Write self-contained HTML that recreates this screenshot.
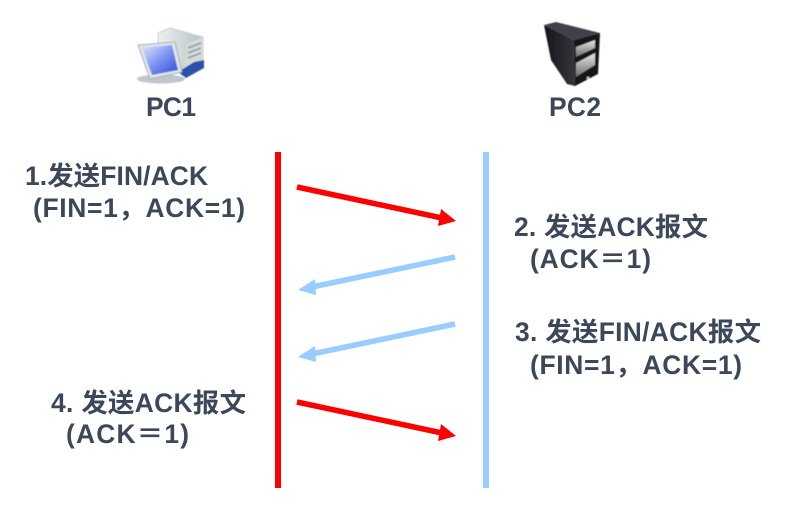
<!DOCTYPE html>
<html><head><meta charset="utf-8"><style>
html,body{margin:0;padding:0;background:#fff}
svg{display:block}
text{font-family:"Liberation Sans","Noto Sans CJK SC",sans-serif;font-weight:bold;font-size:26.4px;fill:#3c4759}
</style></head><body>
<svg width="800" height="506" viewBox="0 0 800 506" xmlns="http://www.w3.org/2000/svg">
<defs>
<linearGradient id="scr" x1="0" y1="0" x2="1" y2="1"><stop offset="0" stop-color="#dfe8fc"/><stop offset=".5" stop-color="#7d93f0"/><stop offset="1" stop-color="#2f4bdc"/></linearGradient>
<linearGradient id="twr" x1="0" y1="0" x2="1" y2="0"><stop offset="0" stop-color="#eef1f0"/><stop offset="1" stop-color="#b7c2c4"/></linearGradient>
<linearGradient id="blk" x1="0" y1="0" x2="1" y2="0"><stop offset="0" stop-color="#15151a"/><stop offset="1" stop-color="#34343c"/></linearGradient>
<linearGradient id="dr" x1="0" y1="0" x2="0" y2="1"><stop offset="0" stop-color="#e8e8e8"/><stop offset="1" stop-color="#6a6a6a"/></linearGradient>
<filter id="soft" x="-10%" y="-10%" width="120%" height="120%"><feGaussianBlur stdDeviation="0.5"/></filter>
</defs>
<!-- PC1 icon -->
<g filter="url(#soft)">
<polygon points="158,33 170,28 203,37 203,64 186,76 158,62" fill="url(#twr)" stroke="#c8d0d0"/>
<polygon points="186,44 203,37 203,62 186,70" fill="#d4dada"/>
<path d="M188,48l13,-5M188,53l13,-5M188,58l13,-5" stroke="#8f9aa0" stroke-width="1.5"/>
<path d="M178,72 L194,62 L204,60 L204,68 L186,78 Z" fill="#2a52a8"/>
<ellipse cx="161" cy="79" rx="24" ry="4.5" fill="#c0c6cc"/>
<polygon points="138,45 175,42 182,72 150,79" fill="#dfe5ea" stroke="#a5adb6"/>
<polygon points="142,48 172,45 178,70 152,75" fill="url(#scr)"/>
</g>
<!-- PC2 icon -->
<g filter="url(#soft)">
<polygon points="544,25 556,22 600,33 574,40" fill="#40414a"/>
<polygon points="544,25 574,40 575,86 567,84 551,60" fill="url(#blk)"/>
<polygon points="574,40 600,33 598,74 575,86" fill="#141418"/>
<polygon points="576,47 595,40 595,48 576,57" fill="url(#dr)"/>
<polygon points="576,63 595,53 595,65 576,77" fill="url(#dr)"/>
<circle cx="588" cy="78" r="1.5" fill="#bbb"/>
</g>
<!-- labels -->
<text x="146" y="116" textLength="50">PC1</text>
<text x="549" y="116" textLength="52">PC2</text>
<!-- lifelines -->
<rect x="275" y="152" width="6" height="336" fill="#ff0000"/>
<rect x="483" y="152" width="6" height="336" fill="#99ccff"/>
<!-- arrows -->
<g fill="#ff0000" stroke="#ff0000">
<line x1="297" y1="187" x2="442" y2="218" stroke-width="5.5"/>
<polygon points="456,221 438,226 441,209" stroke="none"/>
<line x1="297" y1="402" x2="442" y2="433" stroke-width="5.5"/>
<polygon points="456,436 438,441 441,424" stroke="none"/>
</g>
<g fill="#99ccff" stroke="#99ccff">
<line x1="455" y1="257" x2="312" y2="287" stroke-width="5.5"/>
<polygon points="298,290 315,279 316,295" stroke="none"/>
<line x1="455" y1="324" x2="312" y2="354" stroke-width="5.5"/>
<polygon points="298,357 315,346 316,362" stroke="none"/>
</g>
<!-- step text -->
<text x="25" y="185" textLength="183">1.发送FIN/ACK</text>
<text x="33" y="217" textLength="212">(FIN=1，ACK=1)</text>
<text x="514" y="236" textLength="194">2. 发送ACK报文</text>
<text x="530" y="268" textLength="121">(ACK＝1)</text>
<text x="515" y="341" textLength="246">3. 发送FIN/ACK报文</text>
<text x="530" y="374" textLength="212">(FIN=1，ACK=1)</text>
<text x="51" y="412" textLength="195">4. 发送ACK报文</text>
<text x="66" y="443" textLength="123">(ACK＝1)</text>
</svg>
</body></html>
